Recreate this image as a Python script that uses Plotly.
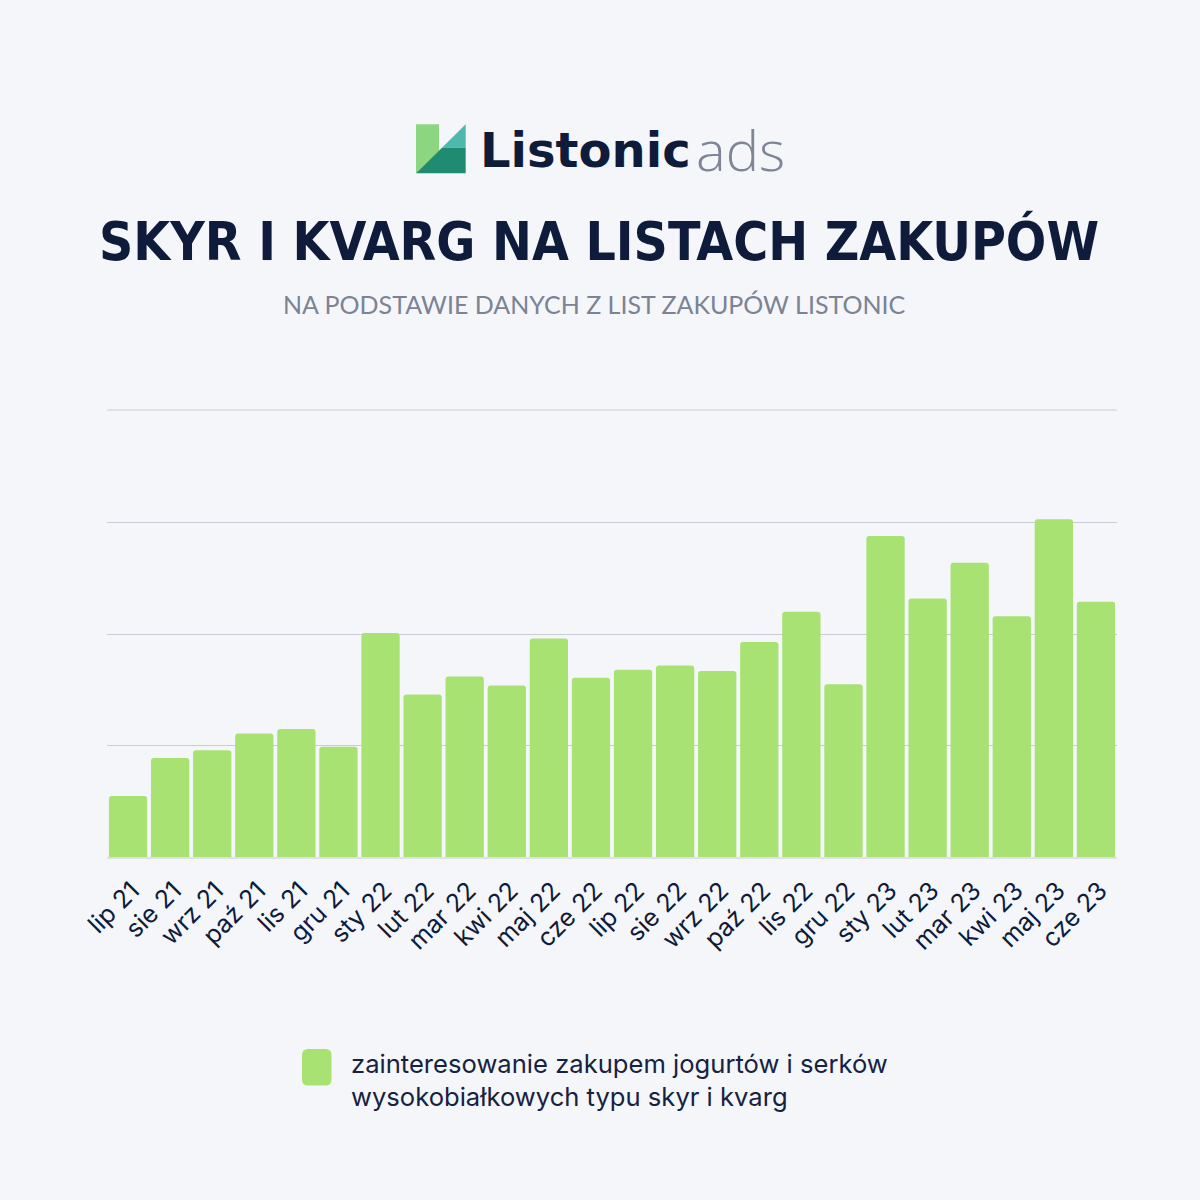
import plotly.graph_objects as go

months = ["lip 21", "sie 21", "wrz 21", "paź 21", "lis 21", "gru 21",
          "sty 22", "lut 22", "mar 22", "kwi 22", "maj 22", "cze 22",
          "lip 22", "sie 22", "wrz 22", "paź 22", "lis 22", "gru 22",
          "sty 23", "lut 23", "mar 23", "kwi 23", "maj 23", "cze 23"]
interest = [0.55, 0.89, 0.96, 1.11, 1.15, 0.99,
            2.01, 1.46, 1.62, 1.54, 1.96, 1.61,
            1.68, 1.72, 1.67, 1.93, 2.20, 1.55,
            2.88, 2.32, 2.64, 2.16, 3.03, 2.29]
grid_vals = [1, 2, 3]
series_name = "zainteresowanie zakupem jogurtów i serków<br>wysokobiałkowych typu skyr i kvarg"
title_text = "SKYR I KVARG NA LISTACH ZAKUPÓW"
subtitle_text = "NA PODSTAWIE DANYCH Z LIST ZAKUPÓW LISTONIC"

BG = "#F4F6FA"
NAVY = "#0E1B3B"
BAR = "#A7E272"

fig = go.Figure()
fig.add_trace(go.Bar(
    x=months, y=interest, name=series_name,
    marker=dict(color=BAR, line=dict(width=0), cornerradius=3),
    showlegend=False, hoverinfo="x+y",
))

W = H = 1200.0
def px(x):
    return x / W
def py(y):
    return 1 - y / H

fig.update_layout(
    width=1200, height=1200,
    paper_bgcolor=BG, plot_bgcolor=BG,
    margin=dict(l=0, r=0, t=0, b=0, autoexpand=False),
    bargap=0.09,
    xaxis=dict(domain=[px(107), px(1117)], showline=True, mirror=True,
               linecolor="#DEE1EA", linewidth=1.5, ticks="", automargin=False,
               tickangle=-45, tickfont=dict(family="Inter", size=25, color=NAVY),
               ticklabelstandoff=7, ticklabelshift=4,
               showgrid=False),
    yaxis=dict(domain=[py(857.3), py(411)], range=[0, 4], tickvals=grid_vals,
               showticklabels=False, showgrid=True, gridcolor="#C9CBD6",
               gridwidth=1, zeroline=False, automargin=False),
)

# Logo icon
shapes = []
shapes.append(dict(type="path", xref="paper", yref="paper",
                   path=f"M {px(416)},{py(124.3)} L {px(439)},{py(124.3)} L {px(439)},{py(151)} L {px(416)},{py(173.3)} Z",
                   fillcolor="#8CD682", line=dict(width=0)))
shapes.append(dict(type="path", xref="paper", yref="paper",
                   path=f"M {px(442)},{py(147.7)} L {px(465.7)},{py(124.3)} L {px(465.7)},{py(147.7)} Z",
                   fillcolor="#4DB8AB", line=dict(width=0)))
shapes.append(dict(type="path", xref="paper", yref="paper",
                   path=f"M {px(416)},{py(173.3)} L {px(442)},{py(147.7)} L {px(465.7)},{py(147.7)} L {px(465.7)},{py(173.3)} Z",
                   fillcolor="#1F8C72", line=dict(width=0)))
# legend swatch
x0, x1, y0, y1, r = 302, 331.5, 1049, 1085.5, 6
shapes.append(dict(type="path", xref="paper", yref="paper",
                   path=(f"M {px(x0+r)},{py(y0)} L {px(x1-r)},{py(y0)} Q {px(x1)},{py(y0)} {px(x1)},{py(y0+r)} "
                         f"L {px(x1)},{py(y1-r)} Q {px(x1)},{py(y1)} {px(x1-r)},{py(y1)} "
                         f"L {px(x0+r)},{py(y1)} Q {px(x0)},{py(y1)} {px(x0)},{py(y1-r)} "
                         f"L {px(x0)},{py(y0+r)} Q {px(x0)},{py(y0)} {px(x0+r)},{py(y0)} Z"),
                   fillcolor=BAR, line=dict(width=0)))
fig.update_layout(shapes=shapes)

ann = []
ann.append(dict(text="Listonic", x=px(478), y=py(150), xref="paper", yref="paper",
                xanchor="left", yanchor="middle", showarrow=False,
                font=dict(family="DejaVu Sans", size=48, color=NAVY, weight="bold")))
ann.append(dict(text="ads", x=px(694), y=py(149), xref="paper", yref="paper",
                xanchor="left", yanchor="middle", showarrow=False,
                font=dict(family="Open Sans", size=56, color="#7E8597", weight=300)))
ann.append(dict(text=title_text, x=0.4992, y=py(241), xref="paper", yref="paper",
                xanchor="center", yanchor="middle", showarrow=False,
                font=dict(family="DejaVu Sans Condensed", size=53, color=NAVY, weight="bold")))
ann.append(dict(text=subtitle_text, x=0.4958, y=py(304), xref="paper", yref="paper",
                xanchor="center", yanchor="middle", showarrow=False,
                font=dict(family="Lato", size=25, color="#7B8394", weight=400)))
ann.append(dict(text=series_name, x=px(349), y=py(1080), xref="paper", yref="paper",
                xanchor="left", yanchor="middle", align="left", showarrow=False,
                font=dict(family="Inter", size=25.6, color="#17223F")))
fig.update_layout(annotations=ann)

fig.write_html("out.html")
